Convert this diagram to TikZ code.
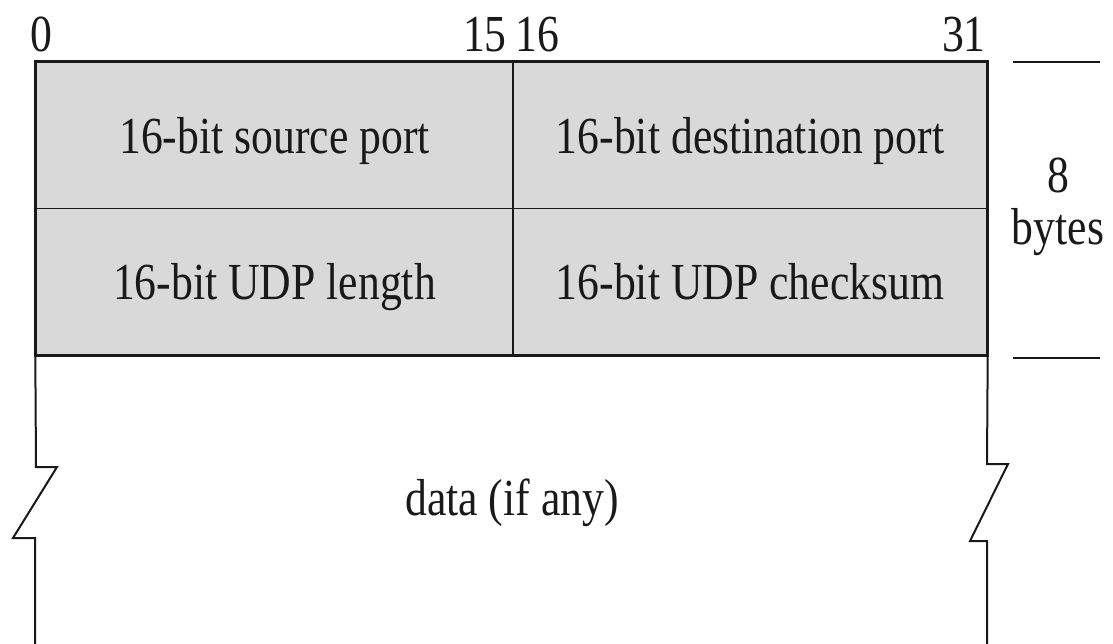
\documentclass[tikz,border=0pt]{standalone}
\usepackage{fontspec}
\setmainfont{Liberation Serif}[FakeStretch=0.84]
\definecolor{cellgrey}{RGB}{217,217,217}
\definecolor{inkc}{RGB}{25,25,25}
\tikzset{
  txt/.style={font=\fontsize{52}{60}\selectfont, text=inkc, inner sep=0pt},
  cell/.style={txt, draw=inkc, line width=1.4pt, fill=cellgrey,
    minimum height=146.5pt, text height=36pt, text depth=0pt},
  frame/.style={draw=inkc, line width=2.2pt},
  edge/.style={draw=inkc, line width=2pt, line join=miter},
  tick/.style={draw=inkc, line width=2pt},
}
\begin{document}
\begin{tikzpicture}[x=1pt,y=-1pt]
\useasboundingbox (0,0) rectangle (1113,644);
% header cells
\node[cell, minimum width=477pt] (sp)  at (274.5,135.25) {16-bit source port};
\node[cell, minimum width=474pt] (dp)  at (750,135.25) {16-bit destination port};
\node[cell, minimum width=477pt] (len) at (274.5,281.75) {16-bit UDP length};
\node[cell, minimum width=474pt] (cks) at (750,281.75) {16-bit UDP checksum};
\draw[frame] (sp.north west) rectangle (cks.south east);
% bit labels
\node[txt, anchor=base west] (b0)  at (30,52) {0};
\node[txt, anchor=base east] (b15) at (507,52) {15};
\node[txt, anchor=base west] (b16) at (515,52) {16};
\node[txt, anchor=base east] (b31) at (986,52) {31};
% data region with breaks
\coordinate (lb) at (35,644);
\coordinate (rb) at (987,644);
\draw[edge] (len.south west) -- (36,467) -- (57,467) -- (13,538) -- (35,538) -- (lb);
\draw[edge] (cks.south east) -- (987,464) -- (1008,464) -- (970,541) -- (987,541) -- (rb);
\node[txt, anchor=base] (data) at (512,515) {data (if any)};
% 8 bytes marker
\coordinate (t1a) at (1013,62);  \coordinate (t1b) at (1100,62);
\coordinate (t2a) at (1013,358); \coordinate (t2b) at (1100,358);
\draw[tick] (t1a) -- (t1b);
\draw[tick] (t2a) -- (t2b);
\node[txt, anchor=base] (eight) at (1058,193) {8};
\node[txt, anchor=base] (bytes) at (1058,245) {bytes};
\end{tikzpicture}
\end{document}
